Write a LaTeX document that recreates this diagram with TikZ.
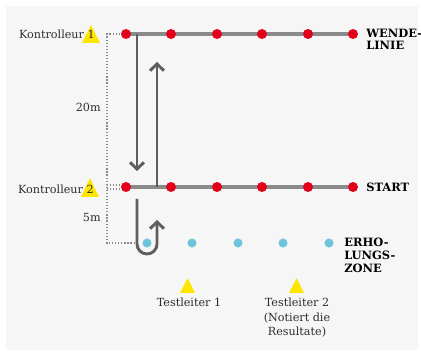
\documentclass[tikz,border=0pt]{standalone}
\usepackage{fontspec}
\setmainfont{DejaVu Serif}
\usetikzlibrary{arrows.meta}
\definecolor{bg}{HTML}{F6F6F6}
\definecolor{linegray}{HTML}{8A8A8A}
\definecolor{arrowgray}{HTML}{5E5E5E}
\definecolor{dotred}{HTML}{E3001B}
\definecolor{dotblue}{HTML}{6CC5DA}
\definecolor{triyellow}{HTML}{FFE600}
\definecolor{txt}{HTML}{2E2E2E}
\begin{document}
\begin{tikzpicture}[x=0.75pt,y=-0.75pt,
  reddot/.style={circle,fill=dotred,inner sep=0pt,minimum size=7.5pt},
  bluedot/.style={circle,fill=dotblue,inner sep=0pt,minimum size=6.8pt},
  track/.style={draw=linegray,line width=3pt},
  runarrow/.style={draw=arrowgray,line width=2.2pt,-{Straight Barb[length=5pt,width=10.5pt]}},
  measure/.style={draw=linegray,line width=0.9pt,dash pattern=on 0.9pt off 1.4pt},
  lbl/.style={font=\fontsize{8.4}{10}\selectfont,text=txt,inner sep=0pt},
  zone/.style={font=\fontsize{8.6}{9}\selectfont\bfseries,text=black,inner sep=0pt,align=left},
  marker/.style={fill=triyellow}
]
\useasboundingbox (0,0) rectangle (421,352);
\fill[white] (0,0) rectangle (421,352);
\fill[bg] (6,6) rectangle (418,350);

% measurement dotted lines
\coordinate (m1) at (107,34);
\coordinate (m2) at (107,243);
\coordinate (m3) at (135,243);
\coordinate (m2a) at (107,185);
\coordinate (m2b) at (107,189);
\coordinate (s1a) at (126,185);
\coordinate (s1b) at (126,189);
\coordinate (w1c) at (126,34);
\draw[measure] (w1c) -- (m1) -- (m2) -- (m3);
\draw[measure] (m2a) -- (s1a);
\draw[measure] (m2b) -- (s1b);

% tracks
\coordinate (wa) at (126,34);
\coordinate (wb) at (353,34);
\coordinate (sa) at (126,187);
\coordinate (sb) at (353,187);
\draw[track] (wa) -- (wb);
\draw[track] (sa) -- (sb);

% arrows
\coordinate (d0) at (137,34);
\coordinate (d1) at (137,171);
\coordinate (u0) at (157,187);
\coordinate (u1) at (157,62);
\draw[runarrow] (d0) -- (d1);
\draw[runarrow] (u0) -- (u1);
\coordinate (t0) at (137,199);
\coordinate (t1) at (137,244);
\coordinate (t2) at (157,220);
\draw[runarrow] (t0) -- (t1) arc[start angle=180,end angle=360,radius=7.5pt] -- (t2);

% red dots
\foreach \i/\x in {1/126,2/171,3/217,4/262,5/308,6/353}{
  \node[reddot] (w\i) at (\x,34) {};
  \node[reddot] (s\i) at (\x,187) {};
}
% blue dots
\foreach \i/\x in {1/147,2/192,3/238,4/283,5/329}{
  \node[bluedot] (b\i) at (\x,243) {};
}

% yellow markers
\fill[marker] (82,43) -- (91,25) -- (100,43) -- cycle;
\fill[marker] (81,197) -- (90,178) -- (99,197) -- cycle;
\fill[marker] (180,293) -- (187.5,278) -- (195,293) -- cycle;
\fill[marker] (289,293) -- (296.5,278) -- (304,293) -- cycle;

% labels
\node[lbl,anchor=base east] (k1) at (95,39) {Kontrolleur 1};
\node[lbl,anchor=base east] (k2) at (94,194) {Kontrolleur 2};
\node[lbl,anchor=base east] (d20) at (101,112) {20m};
\node[lbl,anchor=base east] (d5) at (101,222) {5m};
\node[lbl,anchor=base] (tl1) at (189,307) {Testleiter 1};
\node[lbl,anchor=base,align=center,font=\fontsize{8.4}{10.9}\selectfont] (tl2) at (297,336) {Testleiter 2\\(Notiert die\\Resultate)};

\node[zone,anchor=north west] (wende) at (366,29) {WENDE-\\LINIE};
\node[zone,anchor=west] (start) at (366,187) {START};
\node[zone,anchor=north west,font=\fontsize{8.6}{9.8}\selectfont\bfseries] (erho) at (344,238) {ERHO-\\LUNGS-\\ZONE};
\end{tikzpicture}
\end{document}
